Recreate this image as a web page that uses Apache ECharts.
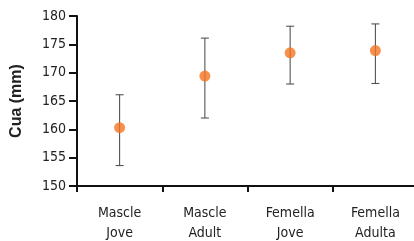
<!DOCTYPE html>
<html><head><meta charset="utf-8">
<script src="https://cdn.jsdelivr.net/npm/echarts@6/dist/echarts.min.js"></script>
<style>html,body{margin:0;padding:0;background:#fff}#c{width:414px;height:241px}</style>
</head><body><div id="c"></div>
<script>
const categories = ['Mascle\nJove', 'Mascle\nAdult', 'Femella\nJove', 'Femella\nAdulta'];
const means = [160.3, 169.4, 173.5, 173.9];
const lower = [153.6, 162.0, 168.0, 168.1];
const upper = [166.1, 176.1, 178.2, 178.6];
const yTicks = [150, 155, 160, 165, 170, 175, 180];

const font = '"DejaVu Sans Condensed", sans-serif';
const chart = echarts.init(document.getElementById('c'));
chart.setOption({
  animation: false,
  grid: { left: 77, top: 16, bottom: 55, width: 341, outerBoundsMode: 'none', containLabel: false },
  xAxis: {
    type: 'category', data: categories, boundaryGap: true,
    axisLine: { lineStyle: { color: '#111', width: 2 } },
    axisTick: { show: true, length: 6, lineStyle: { color: '#111', width: 2 } },
    axisLabel: { color: '#222', fontSize: 14, fontFamily: font, lineHeight: 20, margin: 17 }
  },
  yAxis: {
    type: 'value', min: yTicks[0], max: yTicks[yTicks.length - 1], interval: 5,
    name: 'Cua (mm)', nameLocation: 'middle', nameGap: 52,
    nameTextStyle: { color: '#222', fontSize: 16, fontWeight: 'bold', fontFamily: '"Liberation Sans", sans-serif' },
    splitLine: { show: false },
    axisLine: { show: true, lineStyle: { color: '#111', width: 2 } },
    axisTick: { show: true, length: 8, lineStyle: { color: '#111', width: 2 } },
    axisLabel: { color: '#222', fontSize: 14, fontFamily: font, margin: 11 }
  },
  series: [
    {
      type: 'custom',
      data: categories.map((c, i) => [i, lower[i], upper[i]]),
      renderItem: function (params, api) {
        const lo = api.coord([api.value(0), api.value(1)]);
        const hi = api.coord([api.value(0), api.value(2)]);
        const hw = 4;
        const st = { stroke: '#444', lineWidth: 1 };
        return {
          type: 'group',
          children: [
            { type: 'line', shape: { x1: lo[0], y1: lo[1], x2: hi[0], y2: hi[1] }, style: st },
            { type: 'line', shape: { x1: lo[0] - hw, y1: lo[1], x2: lo[0] + hw, y2: lo[1] }, style: st },
            { type: 'line', shape: { x1: hi[0] - hw, y1: hi[1], x2: hi[0] + hw, y2: hi[1] }, style: st }
          ]
        };
      },
      z: 2
    },
    {
      type: 'scatter', data: means, symbolSize: 11,
      itemStyle: { color: '#F57420' }, z: 3
    }
  ]
});
</script></body></html>
